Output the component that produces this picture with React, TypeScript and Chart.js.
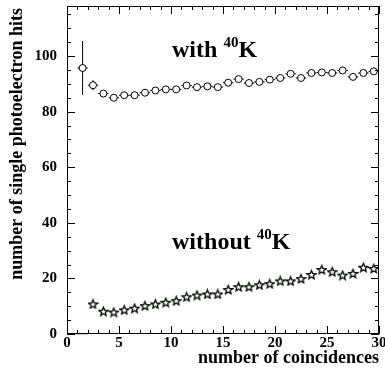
import React, { useEffect, useRef } from "react";
import { Chart, registerables } from "chart.js";

Chart.register(...registerables);

// ---- data ----
const withX = [1.5, 2.5, 3.5, 4.5, 5.5, 6.5, 7.5, 8.5, 9.5, 10.5, 11.5, 12.5, 13.5, 14.5, 15.5, 16.5, 17.5, 18.5, 19.5, 20.5, 21.5, 22.5, 23.5, 24.5, 25.5, 26.5, 27.5, 28.5, 29.5];
const withY = [95.7, 89.5, 86.5, 85.0, 85.9, 85.9, 86.8, 87.6, 88.0, 88.0, 89.4, 88.8, 89.1, 88.8, 90.4, 91.7, 90.3, 90.7, 91.5, 92.1, 93.6, 92.1, 93.9, 94.1, 93.9, 94.8, 92.5, 93.9, 94.5];
const withErr = [9.7, 1.8, 0.9, 0.8, 0.8, 0.8, 0.8, 0.8, 0.8, 0.8, 0.8, 0.8, 0.8, 0.8, 0.8, 0.8, 0.8, 0.8, 0.8, 0.8, 0.8, 0.8, 0.8, 0.8, 0.8, 0.8, 0.8, 0.8, 0.8];

const withoutX = [0.5, 1.5, 2.5, 3.5, 4.5, 5.5, 6.5, 7.5, 8.5, 9.5, 10.5, 11.5, 12.5, 13.5, 14.5, 15.5, 16.5, 17.5, 18.5, 19.5, 20.5, 21.5, 22.5, 23.5, 24.5, 25.5, 26.5, 27.5, 28.5, 29.5];
const withoutY = [0, 0, 10.8, 8.2, 7.9, 8.7, 9.3, 10.2, 10.8, 11.4, 12.0, 13.4, 14.0, 14.4, 14.4, 16.0, 17.0, 17.0, 17.7, 18.1, 19.1, 19.1, 19.9, 21.4, 23.2, 22.4, 21.2, 21.8, 24.0, 23.6];
const withoutErr = [0, 0, 0.4, 0.4, 0.4, 0.4, 0.4, 0.4, 0.4, 0.4, 0.4, 0.4, 0.4, 0.4, 0.4, 0.4, 0.4, 0.4, 0.4, 0.4, 0.4, 0.4, 0.4, 0.4, 0.4, 0.4, 0.4, 0.4, 0.4, 0.4];

const binHalfWidth = 0.5;
const xTickLabels = ["0", "5", "10", "15", "20", "25", "30"];
const yTickLabels = ["0", "20", "40", "60", "80", "100"];
const xTitle = "number of coincidences";
const yTitle = "number of single photoelectron hits";

const FONT = '"Liberation Serif", "Times New Roman", serif';

function makeStar(size: number) {
  const c = document.createElement("canvas");
  c.width = size;
  c.height = size;
  const ctx = c.getContext("2d")!;
  const cx = size / 2, cy = size / 2 + 0.5;
  const R = size / 2 - 1, r = R * 0.45;
  ctx.beginPath();
  for (let i = 0; i < 10; i++) {
    const a = -Math.PI / 2 + (i * Math.PI) / 5;
    const rad = i % 2 === 0 ? R : r;
    const px = cx + rad * Math.cos(a), py = cy + rad * Math.sin(a);
    if (i === 0) ctx.moveTo(px, py); else ctx.lineTo(px, py);
  }
  ctx.closePath();
  ctx.fillStyle = "#ffffff";
  ctx.fill();
  ctx.strokeStyle = "#000000";
  ctx.lineWidth = 1.3;
  ctx.stroke();
  return c;
}

const rootPlugin = {
  id: "rootFrame",
  beforeDatasetsDraw(chart: any) {
    const { ctx, scales } = chart;
    const xs = scales.x, ys = scales.y;
    const drawErr = (xv: number[], yv: number[], ev: number[], color: string) => {
      ctx.save();
      ctx.strokeStyle = color;
      ctx.lineWidth = 1;
      for (let i = 0; i < xv.length; i++) {
        const px = xs.getPixelForValue(xv[i]);
        const py = ys.getPixelForValue(yv[i]);
        ctx.beginPath();
        ctx.moveTo(xs.getPixelForValue(xv[i] - binHalfWidth), py);
        ctx.lineTo(xs.getPixelForValue(xv[i] + binHalfWidth), py);
        ctx.moveTo(px, ys.getPixelForValue(yv[i] - ev[i]));
        ctx.lineTo(px, ys.getPixelForValue(yv[i] + ev[i]));
        ctx.stroke();
      }
      ctx.restore();
    };
    drawErr(withX, withY, withErr, "#000000");
    drawErr(withoutX, withoutY, withoutErr, "#22ee22");
  },
  afterDraw(chart: any) {
    const { ctx, scales, chartArea: a } = chart;
    const xs = scales.x, ys = scales.y;
    ctx.save();
    ctx.strokeStyle = "#000";
    ctx.lineWidth = 1;
    ctx.strokeRect(a.left + 0.5, a.top + 0.5, a.right - a.left - 1, a.bottom - a.top - 1);
    ctx.beginPath();
    // x ticks
    for (let v = 0; v <= 30; v++) {
      const px = Math.round(xs.getPixelForValue(v)) + 0.5;
      const len = v % 5 === 0 ? 8 : 4;
      ctx.moveTo(px, a.bottom);
      ctx.lineTo(px, a.bottom - len);
      ctx.moveTo(px, a.top);
      ctx.lineTo(px, a.top + len);
    }
    // y ticks
    for (let v = 0; v <= 115; v += 5) {
      const py = Math.round(ys.getPixelForValue(v)) + 0.5;
      const len = v % 20 === 0 ? 8 : 4;
      ctx.moveTo(a.left, py);
      ctx.lineTo(a.left + len, py);
      ctx.moveTo(a.right, py);
      ctx.lineTo(a.right - len, py);
    }
    ctx.stroke();

    ctx.fillStyle = "#000";
    ctx.font = `bold 15px ${FONT}`;
    ctx.textAlign = "center";
    ctx.textBaseline = "alphabetic";
    xTickLabels.forEach((t) => {
      ctx.fillText(t, xs.getPixelForValue(Number(t)), a.bottom + 13);
    });
    ctx.textAlign = "right";
    ctx.textBaseline = "middle";
    yTickLabels.forEach((t) => {
      ctx.fillText(t, a.left - 10, ys.getPixelForValue(Number(t)));
    });

    // axis titles
    ctx.font = `bold 18px ${FONT}`;
    ctx.textAlign = "right";
    ctx.textBaseline = "alphabetic";
    ctx.fillText(xTitle, a.right, a.bottom + 29);
    ctx.save();
    ctx.translate(22, a.top + 2);
    ctx.rotate(-Math.PI / 2);
    ctx.fillText(yTitle, 0, 0);
    ctx.restore();

    // annotations
    const label = (main: string, xv: number, yv: number) => {
      let px = xs.getPixelForValue(xv);
      const py = ys.getPixelForValue(yv);
      ctx.textAlign = "left";
      ctx.textBaseline = "alphabetic";
      ctx.font = `bold 24px ${FONT}`;
      ctx.fillText(main, px, py);
      px += ctx.measureText(main).width;
      ctx.font = `bold 15px ${FONT}`;
      ctx.fillText("40", px, py - 10);
      px += ctx.measureText("40").width;
      ctx.font = `bold 24px ${FONT}`;
      ctx.fillText("K", px, py);
    };
    label("with ", 10.1, 99.5);
    label("without ", 10.1, 30.4);
    ctx.restore();
  },
};

export default function App() {
  const ref = useRef<HTMLCanvasElement>(null);
  useEffect(() => {
    document.body.style.margin = "0";
    const star = makeStar(11);
    const chart = new Chart(ref.current!, {
      type: "scatter",
      data: {
        datasets: [
          {
            label: "with 40K",
            data: withX.map((x, i) => ({ x, y: withY[i] })),
            pointStyle: "circle",
            pointRadius: 3.5,
            pointBackgroundColor: "#ffffff",
            pointBorderColor: "#000000",
            pointBorderWidth: 1,
            showLine: false,
          },
          {
            label: "without 40K",
            data: withoutX.map((x, i) => ({ x, y: withoutY[i] })),
            pointStyle: star as any,
            pointRadius: withoutY.map((v) => (v === 0 ? 0 : 5)),
            showLine: false,
          },
        ],
      },
      options: {
        responsive: false,
        animation: false,
        devicePixelRatio: 1,
        layout: { padding: { left: 67, right: 6, top: 1, bottom: 37 } },
        plugins: { legend: { display: false }, tooltip: { enabled: false } },
        scales: {
          x: { type: "linear", min: 0, max: 30, display: false },
          y: { type: "linear", min: 0, max: 118, display: false },
        },
      },
      plugins: [rootPlugin],
    });
    return () => chart.destroy();
  }, []);
  return (
    <div style={{ width: 385, height: 371, background: "#fff" }}>
      <canvas ref={ref} width={385} height={371} />
    </div>
  );
}
